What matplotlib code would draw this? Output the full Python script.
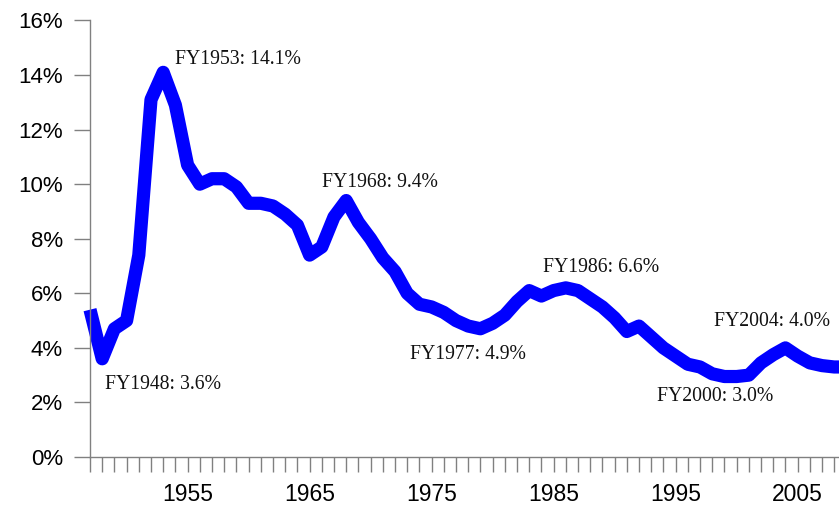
# Defense outlays as a share of GDP, FY1947 onward
import numpy as np
import matplotlib.pyplot as plt
from matplotlib.ticker import MultipleLocator, FixedLocator, FuncFormatter

years = list(range(1947, 2010))
share = [5.4, 3.6, 4.7, 5.0, 7.4, 13.1, 14.1, 12.9, 10.7, 10.0,
         10.2, 10.2, 9.9, 9.3, 9.3, 9.2, 8.9, 8.5, 7.4, 7.7,
         8.8, 9.4, 8.6, 8.0, 7.3, 6.8, 6.0, 5.6, 5.5, 5.3,
         5.0, 4.8, 4.7, 4.9, 5.2, 5.7, 6.1, 5.9, 6.1, 6.2,
         6.1, 5.8, 5.5, 5.1, 4.6, 4.8, 4.4, 4.0, 3.7, 3.4,
         3.3, 3.05, 2.95, 2.95, 3.0, 3.45, 3.75, 4.0, 3.7, 3.45,
         3.35, 3.3, 3.3]

# labelled points: (text, x, y) of left/centre of label
notes = [("FY1953: 14.1%", 1953.97, 14.58),
         ("FY1948: 3.6%", 1948.25, 2.67),
         ("FY1968: 9.4%", 1966.0, 10.07),
         ("FY1977: 4.9%", 1973.2, 3.74),
         ("FY1986: 6.6%", 1984.1, 6.96),
         ("FY2004: 4.0%", 1998.15, 4.95),
         ("FY2000: 3.0%", 1993.5, 2.2)]

year_labels = [1955, 1965, 1975, 1985, 1995, 2005]

fig = plt.figure(figsize=(8.39, 5.08), dpi=100)
ax = fig.add_axes([90 / 839, 51 / 508, 749 / 839, 436.5 / 508])

ax.plot(years, share, color='#0000ff', lw=9.5, solid_joinstyle='round',
        solid_capstyle='butt', clip_on=False)

ax.set_xlim(1947, 1947 + 749 / 12.2)
ax.set_ylim(0, 16)

for s in ['top', 'right']:
    ax.spines[s].set_visible(False)
for s in ['left', 'bottom']:
    ax.spines[s].set_color('#808080')
    ax.spines[s].set_linewidth(1)

ax.yaxis.set_major_locator(MultipleLocator(2))
ax.yaxis.set_major_formatter(FuncFormatter(lambda v, p: '%d%%' % v))
ax.xaxis.set_major_locator(FixedLocator(year_labels))
ax.xaxis.set_minor_locator(FixedLocator(years))
ax.tick_params(axis='y', direction='out', length=11.5, width=1, color='#808080',
               pad=8, labelsize=16)
ax.tick_params(axis='x', which='both', direction='out', length=11, width=1,
               color='#808080', pad=8, labelsize=16.5)
for lab in ax.get_xticklabels() + ax.get_yticklabels():
    lab.set_fontfamily('Liberation Sans')

for txt, x, y in notes:
    ax.text(x, y, txt, ha='left', va='center', fontsize=14.2,
            fontfamily='Liberation Serif', color='#111111')

plt.savefig('out.png', dpi=100)
